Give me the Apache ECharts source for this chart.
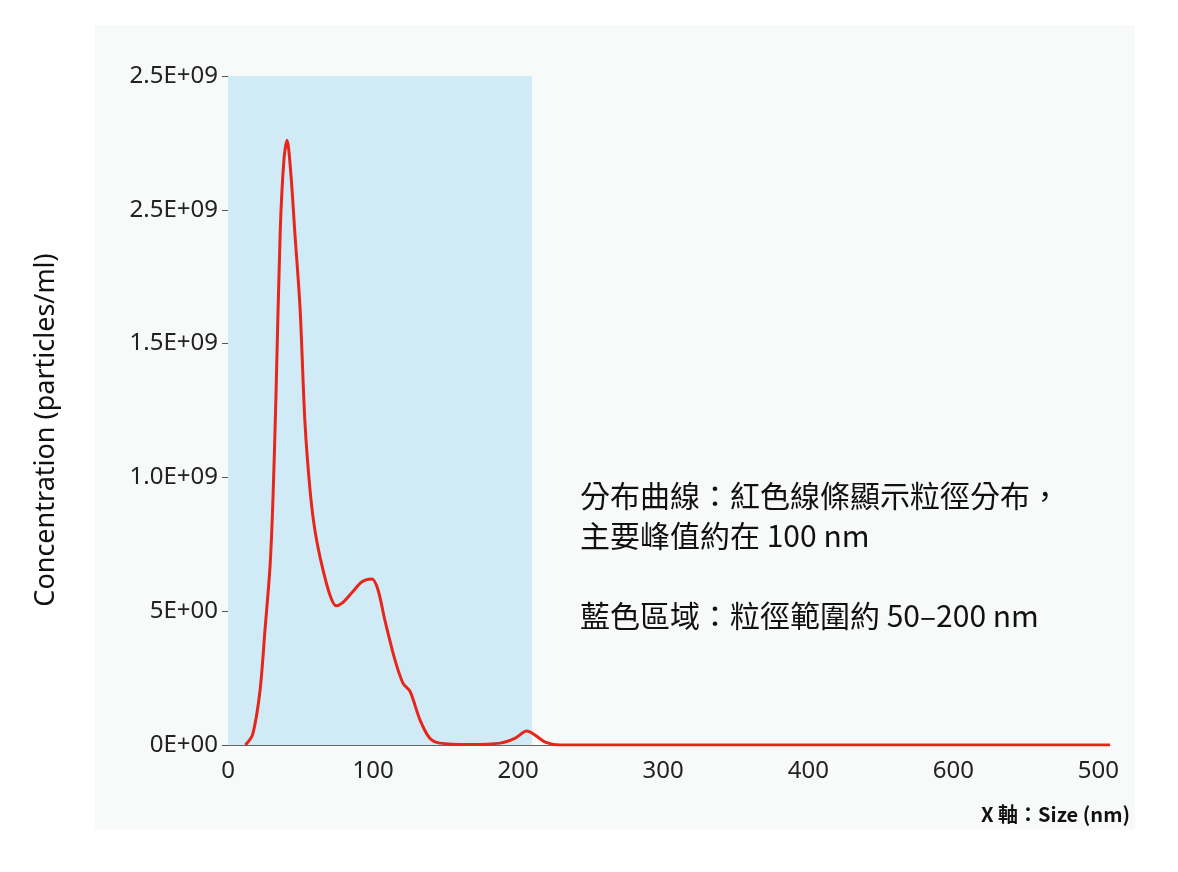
<!DOCTYPE html>
<html><head><meta charset="utf-8">
<script src="https://cdn.jsdelivr.net/npm/echarts@6/dist/echarts.min.js"></script>
<style>html,body{margin:0;background:#fff}#c{width:1178px;height:872px}</style>
</head><body><div id="c"></div>
<script>
const sizeNm=[12,17,22,25.5,29,31,33,36,38.6,40.7,43.4,46,49.7,53,56.6,60,64.8,70.3,74.5,78.6,85.5,92.4,99.3,103.4,108,115,120.7,125.5,132.4,139,146,167,187.6,198,206,211.7,218.6,229,608];
const conc=[0,0.04,0.2,0.43,0.67,0.92,1.29,1.92,2.19,2.26,2.13,1.92,1.63,1.21,0.95,0.8,0.67,0.56,0.52,0.53,0.57,0.61,0.62,0.58,0.47,0.32,0.23,0.2,0.093,0.026,0.007,0.002,0.007,0.026,0.052,0.037,0.011,0,0];
const xTickLabels=['0','100','200','300','400','600','500'];
const yTickLabels=['0E+00','5E+00','1.0E+09','1.5E+09','2.5E+09','2.5E+09'];
const bandRange=[0,209.6];
const chart=echarts.init(document.getElementById('c'));
chart.setOption({
 backgroundColor:'#fff',
 graphic:[
  {type:'rect',z:-10,shape:{x:95,y:25,width:1040,height:805},style:{fill:'#f8f9f9'}},
  {type:'text',left:580,top:476,style:{text:'分布曲線：紅色線條顯示粒徑分布，\n主要峰值約在 100 nm\n\n藍色區域：粒徑範圍約 50–200 nm',font:'30px "Noto Sans CJK TC"',fill:'#111',lineHeight:40}},
  {type:'text',right:48,top:804,style:{text:'X 軸：Size (nm)',font:'bold 20px "Noto Sans CJK TC"',fill:'#111'}},
  {type:'text',x:46,y:430,rotation:Math.PI/2,style:{text:'Concentration (particles/ml)',font:'27px "Noto Sans"',fill:'#111',align:'center',verticalAlign:'middle'}}
 ],
 grid:{left:228,right:68,top:76,bottom:127},
 xAxis:{type:'value',min:0,max:608,interval:100,
  axisLine:{lineStyle:{color:'#666'}},axisTick:{show:false},splitLine:{show:false},
  axisLabel:{color:'#222',fontSize:24,margin:14,fontFamily:'Noto Sans',showMaxLabel:false,
   formatter:v=>xTickLabels[Math.round(v/100)]??''}},
 yAxis:{type:'value',min:0,max:2.5,interval:0.5,
  axisLine:{show:true,lineStyle:{color:'#5aa9d6'}},axisTick:{show:true,length:6,lineStyle:{color:'#555'}},splitLine:{show:false},
  axisLabel:{color:'#222',fontSize:24,margin:10,fontFamily:'Noto Sans',
   formatter:v=>yTickLabels[Math.round(v/0.5)]??''}},
 series:[{type:'line',smooth:0.3,symbol:'none',
  data:sizeNm.map((x,i)=>[x,conc[i]]),
  lineStyle:{color:'#e8251b',width:3},
  markArea:{silent:true,itemStyle:{color:'#d0ebf5'},data:[[{xAxis:bandRange[0]},{xAxis:bandRange[1]}]]},
  z:5}]
});
</script></body></html>
